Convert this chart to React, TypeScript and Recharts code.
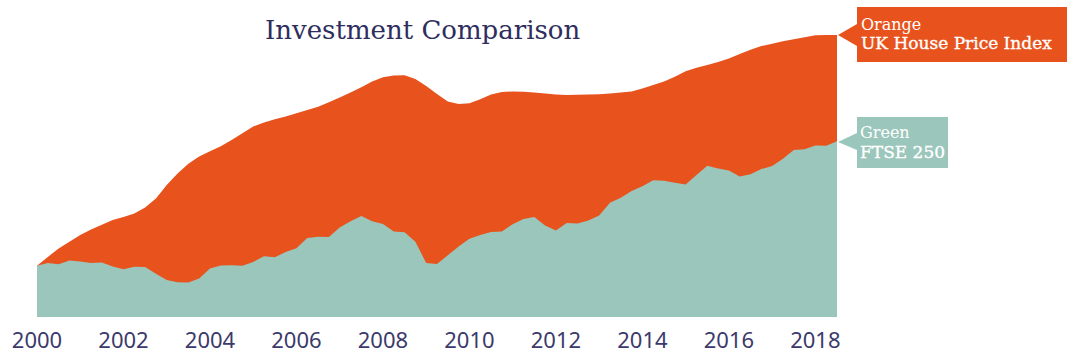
import { AreaChart, Area, XAxis, YAxis } from 'recharts';

// quarterly readings, 2000 Q1 .. 2018 Q3 (index points, same start for both)
const startYear = 2000;

const housePriceIndex = [
  51.3, 60.1, 68.4, 75.2, 82.0, 87.6, 92.2, 96.9, 99.9, 103.6,
  109.6, 118.5, 132.0, 143.5, 153.2, 160.6, 165.7, 170.8, 176.9, 183.8,
  190.4, 194.5, 197.7, 200.5, 203.7, 207.0, 210.3, 214.7, 219.4, 224.6,
  229.8, 235.5, 239.7, 241.5, 241.7, 238.0, 231.0, 223.0, 215.4, 213.0,
  213.7, 217.8, 222.4, 225.0, 225.6, 225.2, 224.6, 223.5, 222.6, 222.0,
  222.2, 222.4, 222.8, 223.6, 224.5, 225.5, 228.5, 232.0, 235.6, 240.2,
  245.7, 249.2, 252.1, 255.1, 258.6, 262.9, 267.2, 270.9, 273.3, 275.7,
  277.8, 279.8, 281.8, 282.0, 282.0,
];

const ftse250 = [
  51.3, 54.0, 52.7, 56.6, 55.6, 54.1, 54.5, 50.4, 47.8, 50.2,
  50.0, 43.3, 36.9, 34.7, 34.4, 38.5, 48.4, 51.5, 51.7, 51.3,
  55.1, 60.7, 59.7, 65.0, 68.7, 79.0, 80.3, 80.0, 89.6, 95.7,
  100.9, 95.8, 93.0, 85.4, 84.7, 75.2, 54.0, 53.0, 61.8, 70.6,
  78.2, 82.1, 85.0, 85.6, 92.8, 98.1, 99.9, 91.6, 86.6, 94.0,
  93.6, 96.4, 101.4, 114.3, 119.3, 126.0, 130.8, 136.8, 136.2, 134.3,
  132.5, 141.9, 151.2, 148.4, 146.4, 140.4, 142.7, 147.9, 151.1, 158.3,
  167.1, 167.7, 171.5, 171.3, 175.7,
];

const yearTicks = ['2000', '2002', '2004', '2006', '2008', '2010', '2012', '2014', '2016', '2018'];

const data = housePriceIndex.map((v, i) => ({
  q: i,
  label: `${startYear + Math.floor(i / 4)} Q${(i % 4) + 1}`,
  house: v,
  ftse: ftse250[i],
}));

const ORANGE = '#E8531D';
const TEAL = '#9BC6BC';
const NAVY = '#2e2d5e';
const SERIF = '"DejaVu Serif", serif';

const YearTick = ({ x, y, payload }: any) => (
  <text
    x={x}
    y={y + 31}
    textAnchor="middle"
    fill="#3b3a6b"
    fontSize={22}
    fontFamily='"Noto Sans", sans-serif'
  >
    {yearTicks[payload.value / 8]}
  </text>
);

export default function App() {
  return (
    <div style={{ position: 'absolute', left: 0, top: 0, width: 1080, height: 356, background: '#fff' }}>
      <AreaChart
        width={1080}
        height={356}
        data={data}
        margin={{ top: 17, right: 243, left: 37, bottom: 9 }}
      >
        <XAxis
          dataKey="q"
          type="number"
          domain={[0, 74]}
          ticks={[0, 8, 16, 24, 32, 40, 48, 56, 64, 72]}
          axisLine={false}
          tickLine={false}
          tickSize={0}
          tickMargin={0}
          height={30}
          tick={<YearTick />}
        />
        <YAxis hide domain={[0, 300]} />
        <Area
          type="linear"
          dataKey="house"
          stroke="none"
          fill={ORANGE}
          fillOpacity={1}
          isAnimationActive={false}
        />
        <Area
          type="linear"
          dataKey="ftse"
          stroke="none"
          fill={TEAL}
          fillOpacity={1}
          isAnimationActive={false}
        />
      </AreaChart>

      {/* title and callout labels */}
      <svg
        width={1080}
        height={356}
        style={{ position: 'absolute', left: 0, top: 0, pointerEvents: 'none' }}
      >
        <text x={265} y={39} fontSize={26} fontFamily={SERIF} fill={NAVY}>
          Investment Comparison
        </text>

        <polygon points="838,35 857,24 857,46" fill={ORANGE} />
        <rect x={857} y={7} width={210} height={55} fill={ORANGE} />
        <text x={861} y={30} fontSize={16} fontFamily={SERIF} fill="#fff">
          Orange
        </text>
        <text x={861} y={49} fontSize={17} fontFamily={SERIF} fill="#fff" stroke="#fff" strokeWidth={0.35}>
          UK House Price Index
        </text>

        <polygon points="838,142 857,133 857,150" fill={TEAL} />
        <rect x={857} y={117} width={91} height={51} fill={TEAL} />
        <text x={860} y={138} fontSize={16} fontFamily={SERIF} fill="#fff">
          Green
        </text>
        <text x={860} y={158} fontSize={17} fontFamily={SERIF} fill="#fff" stroke="#fff" strokeWidth={0.35}>
          FTSE 250
        </text>
      </svg>
    </div>
  );
}
